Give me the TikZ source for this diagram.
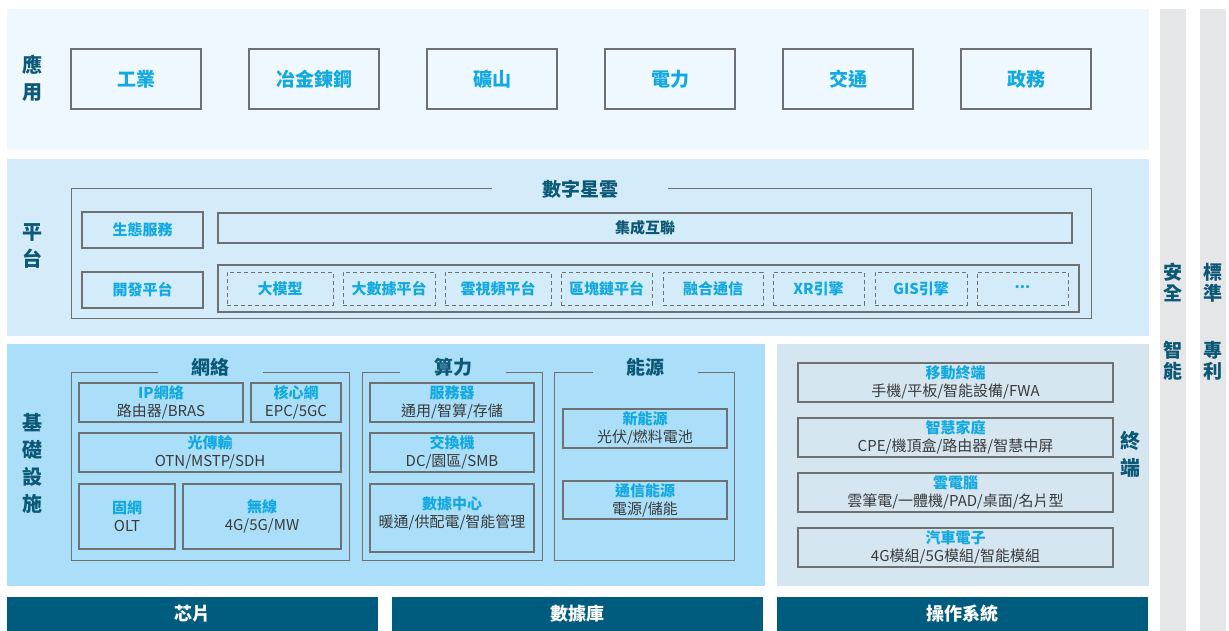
\documentclass[tikz,border=0pt]{standalone}
\usepackage{fontspec}
\setmainfont{Noto Sans CJK TC}
\definecolor{appbg}{HTML}{EFF8FE}
\definecolor{platbg}{HTML}{D4ECFA}
\definecolor{infrabg}{HTML}{ABDFF9}
\definecolor{termbg}{HTML}{D5E6F0}
\definecolor{barbg}{HTML}{005C7E}
\definecolor{sidebg}{HTML}{E5E6E8}
\definecolor{darkT}{HTML}{0B5877}
\definecolor{cyanT}{HTML}{12A9E1}
\definecolor{grayT}{HTML}{3A3A3A}
\definecolor{lineC}{HTML}{6E7072}
\tikzset{
  box/.style={draw=lineC, line width=1.2pt, inner sep=0pt, align=center,
    font=\fontsize{15}{18}\selectfont, text=grayT},
  appbox/.style={box, minimum width=130pt, minimum height=60pt,
    font=\fontsize{19}{20}\selectfont\bfseries, text=cyanT},
  dbox/.style={draw=lineC, line width=1pt, dash pattern=on 4pt off 3pt, inner sep=0pt,
    minimum height=33pt, font=\fontsize{15}{16}\selectfont\bfseries, text=cyanT},
  frame/.style={draw=lineC, line width=1pt},
  side/.style={align=center, text=darkT, font=\fontsize{20}{27}\selectfont\bfseries},
  hd/.style={inner sep=0pt, minimum height=18pt, text=darkT, font=\fontsize{19}{20}\selectfont\bfseries},
  bar/.style={fill=barbg, inner sep=0pt, minimum height=34pt, minimum width=371pt,
    text=white, font=\fontsize{18}{20}\selectfont\bfseries}
}
\newcommand{\ttl}[1]{{\color{cyanT}\bfseries #1}}
\begin{document}
\begin{tikzpicture}[x=1pt,y=-1pt]
\useasboundingbox (0,0) rectangle (1229,631);

% bands
\fill[appbg] (7,9) rectangle (1149,150);
\fill[platbg] (7,159) rectangle (1149,336);
\fill[infrabg] (7,344) rectangle (765,586);
\fill[termbg] (777,344) rectangle (1149,586);
\fill[sidebg] (1160,9) rectangle (1186,631);
\fill[sidebg] (1200,9) rectangle (1226,631);

% application
\node[side] (app) at (33,78) {應\\用};
\node[appbox] (a1) at (136,79) {工業};
\node[appbox] (a2) at (314,79) {冶金鍊鋼};
\node[appbox] (a3) at (492,79) {礦山};
\node[appbox] (a4) at (670,79) {電力};
\node[appbox] (a5) at (848,79) {交通};
\node[appbox] (a6) at (1026,79) {政務};

% platform
\node[side] (plat) at (33,246) {平\\台};
\draw[frame] (71,189) rectangle (1091,318);
\node[hd, fill=platbg, minimum width=176pt] (star) at (580,189) {數字星雲};
\node[box, minimum width=121pt, minimum height=36pt, font=\fontsize{15}{16}\selectfont\bfseries, text=cyanT] (eco) at (142.5,230) {生態服務};
\node[box, minimum width=121pt, minimum height=36pt, font=\fontsize{15}{16}\selectfont\bfseries, text=cyanT] (dev) at (142.5,290) {開發平台};
\node[box, minimum width=854pt, minimum height=30pt, font=\fontsize{15}{16}\selectfont\bfseries, text=darkT] (link) at (645,228) {集成互聯};
\node[box, minimum width=861pt, minimum height=47pt] (tools) at (648.5,288.5) {};
\node[dbox, minimum width=106pt] (d1) at (280,288.5) {大模型};
\node[dbox, minimum width=92pt] (d2) at (389,288.5) {大數據平台};
\node[dbox, minimum width=106pt] (d3) at (498,288.5) {雲視頻平台};
\node[dbox, minimum width=91pt] (d4) at (606.5,288.5) {區塊鏈平台};
\node[dbox, minimum width=100pt] (d5) at (713,288.5) {融合通信};
\node[dbox, minimum width=91pt] (d6) at (818.5,288.5) {XR引擎};
\node[dbox, minimum width=92pt] (d7) at (921,288.5) {GIS引擎};
\node[dbox, minimum width=91pt] (d8) at (1022.5,288.5) {\raisebox{4pt}{...}};

% infrastructure
\node[side] (infra) at (33,463) {基\\礎\\設\\施};
\draw[frame] (71,372) rectangle (349,560);
\node[hd, fill=infrabg, minimum width=105pt] (net) at (210.5,367) {網絡};
\draw[frame] (362,372) rectangle (542,560);
\node[hd, fill=infrabg, minimum width=106pt] (comp) at (453,367) {算力};
\draw[frame] (554,372) rectangle (734,560);
\node[hd, fill=infrabg, minimum width=105pt] (pow) at (645.5,367) {能源};

\node[box, minimum width=164pt, minimum height=39pt] (ip) at (161,402.5) {\ttl{IP網絡}\\路由器/BRAS};
\node[box, minimum width=90pt, minimum height=39pt] (core) at (296,402.5) {\ttl{核心網}\\EPC/5GC};
\node[box, minimum width=262pt, minimum height=39pt] (otn) at (210,452.5) {\ttl{光傳輸}\\OTN/MSTP/SDH};
\node[box, minimum width=96pt, minimum height=65pt] (fix) at (127,516.5) {\ttl{固網}\\OLT};
\node[box, minimum width=158pt, minimum height=65pt] (wl) at (262,516.5) {\ttl{無線}\\4G/5G/MW};

\node[box, minimum width=164pt, minimum height=39pt] (srv) at (452,402.5) {\ttl{服務器}\\通用/智算/存儲};
\node[box, minimum width=164pt, minimum height=39pt] (sw) at (452,452.5) {\ttl{交換機}\\DC/園區/SMB};
\node[box, minimum width=164pt, minimum height=68pt, text depth=12pt] (dc) at (452,518) {\ttl{數據中心}\\暖通/供配電/智能管理};

\node[box, minimum width=164pt, minimum height=39pt] (newe) at (645,428.5) {\ttl{新能源}\\光伏/燃料電池};
\node[box, minimum width=164pt, minimum height=38pt] (tele) at (645,500) {\ttl{通信能源}\\電源/儲能};

% terminal
\node[side] (term) at (1130,454) {終\\端};
\node[box, minimum width=315pt, minimum height=39pt] (t1) at (955.5,382.5) {\ttl{移動終端}\\手機/平板/智能設備/FWA};
\node[box, minimum width=315pt, minimum height=39pt] (t2) at (955.5,437.5) {\ttl{智慧家庭}\\CPE/機頂盒/路由器/智慧中屏};
\node[box, minimum width=315pt, minimum height=39pt] (t3) at (955.5,492.5) {\ttl{雲電腦}\\雲筆電/一體機/PAD/桌面/名片型};
\node[box, minimum width=315pt, minimum height=39pt] (t4) at (955.5,547.5) {\ttl{汽車電子}\\4G模組/5G模組/智能模組};

% bottom bars
\node[bar] (chip) at (192.5,614) {芯片};
\node[bar] (db) at (577.5,614) {數據庫};
\node[bar] (os) at (962.5,614) {操作系統};

% side columns
\node[side, font=\fontsize{19}{21}\selectfont\bfseries] (sec) at (1173,282.5) {安\\全};
\node[side, font=\fontsize{19}{21}\selectfont\bfseries] (ai) at (1173,360.5) {智\\能};
\node[side, font=\fontsize{19}{21}\selectfont\bfseries] (std) at (1213,282.5) {標\\準};
\node[side, font=\fontsize{19}{21}\selectfont\bfseries] (pat) at (1213,360.5) {專\\利};
\end{tikzpicture}
\end{document}
